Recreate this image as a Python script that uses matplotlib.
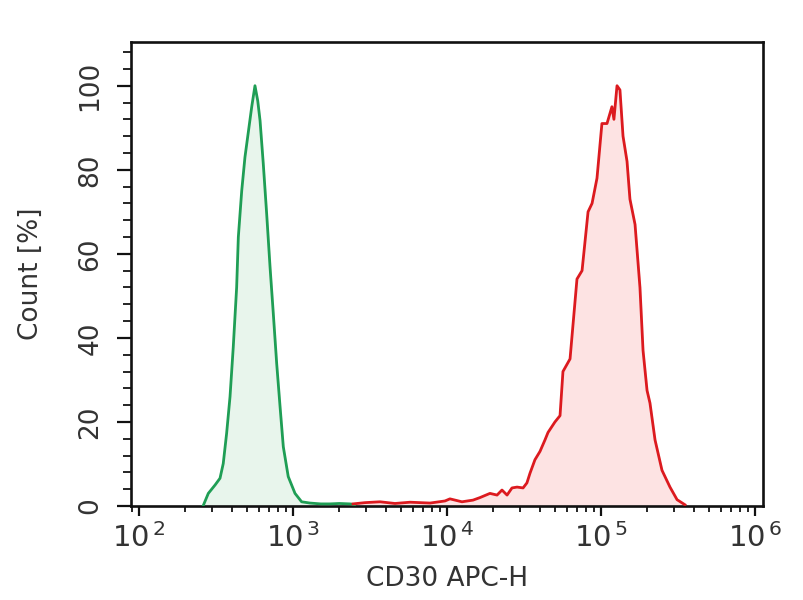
import numpy as np
import matplotlib
matplotlib.use("Agg")
import matplotlib.pyplot as plt
from matplotlib.ticker import MultipleLocator, FixedLocator, LogLocator, NullFormatter

plt.rcParams['font.family'] = ['DejaVu Sans']

# Green (isotype / control) histogram: log10(intensity), % of max count
green_log = [2.416, 2.450, 2.494, 2.526, 2.547, 2.569, 2.591, 2.612, 2.634, 2.645,
             2.667, 2.688, 2.710, 2.732, 2.753, 2.771, 2.786, 2.807, 2.829, 2.851,
             2.872, 2.894, 2.916, 2.937, 2.969, 3.013, 3.056, 3.11, 3.18, 3.24,
             3.30, 3.37, 3.40]
green_pct = [0.0, 3.0, 5.0, 6.6, 10.1, 17.3, 26.0, 37.8, 52.0, 64.0,
             75.0, 83.0, 89.0, 95.0, 100.0, 96.4, 91.7, 81.4, 69.5, 56.8,
             45.8, 33.9, 23.6, 14.1, 7.0, 3.0, 1.0, 0.7, 0.5, 0.5,
             0.6, 0.5, 0.3]

# Red (CD30 APC) histogram
red_log = [3.390, 3.468, 3.565, 3.662, 3.760, 3.890, 3.987, 4.019, 4.097, 4.169,
           4.214, 4.279, 4.325, 4.357, 4.390, 4.422, 4.455, 4.494, 4.519, 4.539,
           4.571, 4.604, 4.636, 4.656, 4.701, 4.734, 4.753, 4.799, 4.844, 4.877,
           4.916, 4.942, 4.974, 5.006, 5.039, 5.071, 5.084, 5.104, 5.123, 5.143,
           5.169, 5.188, 5.221, 5.253, 5.273, 5.299, 5.318, 5.351, 5.396, 5.448,
           5.494, 5.545]
red_pct = [0.5, 0.8, 1.0, 0.6, 0.9, 0.7, 1.2, 1.7, 1.0, 1.4,
           2.0, 3.0, 2.6, 3.8, 2.6, 4.3, 4.5, 4.3, 5.5, 7.8,
           11.0, 13.0, 15.7, 17.5, 20.0, 21.5, 32.0, 35.0, 54.0, 56.0,
           70.0, 72.0, 78.0, 91.0, 91.0, 95.0, 92.0, 100.0, 99.0, 88.0,
           82.0, 73.0, 67.0, 52.0, 37.0, 27.5, 24.5, 15.7, 8.5, 4.5,
           1.5, 0.3]

x_decades = [2, 3, 4, 5, 6]
y_ticks = [0, 20, 40, 60, 80, 100]

fig = plt.figure(figsize=(8.04, 6.00), dpi=100)
ax = fig.add_axes([131/804, 1 - 506/600, (763-131)/804, (506-42)/600])

gx = 10 ** np.array(green_log)
rx = 10 ** np.array(red_log)
ax.fill_between(gx, 0, green_pct, color='#e8f5ec', zorder=1)
ax.plot(gx, green_pct, color='#1f9e55', lw=2.0, zorder=3)
ax.fill_between(rx, 0, red_pct, color='#fde3e3', zorder=1)
ax.plot(rx, red_pct, color='#dc1a1f', lw=2.0, zorder=3)

ax.set_xscale('log')
ax.set_xlim(10 ** 1.948, 10 ** 6.052)
ax.set_ylim(0, 110.4)

for s in ax.spines.values():
    s.set_linewidth(1.9)
    s.set_color('#111111')

ax.tick_params(axis='x', which='major', direction='out', length=7, width=1.6,
               pad=5, colors='#111111')
ax.tick_params(axis='x', which='minor', direction='out', length=4, width=1.2)
ax.tick_params(axis='y', which='major', direction='out', length=10, width=1.6,
               pad=10, colors='#111111')
ax.tick_params(axis='y', which='minor', direction='out', length=6, width=1.2)

ax.xaxis.set_major_locator(FixedLocator([10.0 ** d for d in x_decades]))
ax.xaxis.set_minor_locator(LogLocator(base=10, subs=np.arange(2, 10)))
ax.xaxis.set_minor_formatter(NullFormatter())
ax.set_xticklabels([r'$\mathregular{10^{\,%d}}$' % d for d in x_decades],
                   fontsize=21, color='#333333')

ax.yaxis.set_major_locator(FixedLocator(y_ticks))
ax.yaxis.set_minor_locator(MultipleLocator(4))
ax.set_yticklabels([str(v) for v in y_ticks], rotation=90, va='center',
                   fontsize=19, color='#333333')

ax.set_xlabel('CD30 APC-H', fontsize=19, color='#333333', labelpad=10)
ax.set_ylabel('Count [%]', fontsize=19, color='#333333', labelpad=24)

fig.savefig('out.png', dpi=100)
